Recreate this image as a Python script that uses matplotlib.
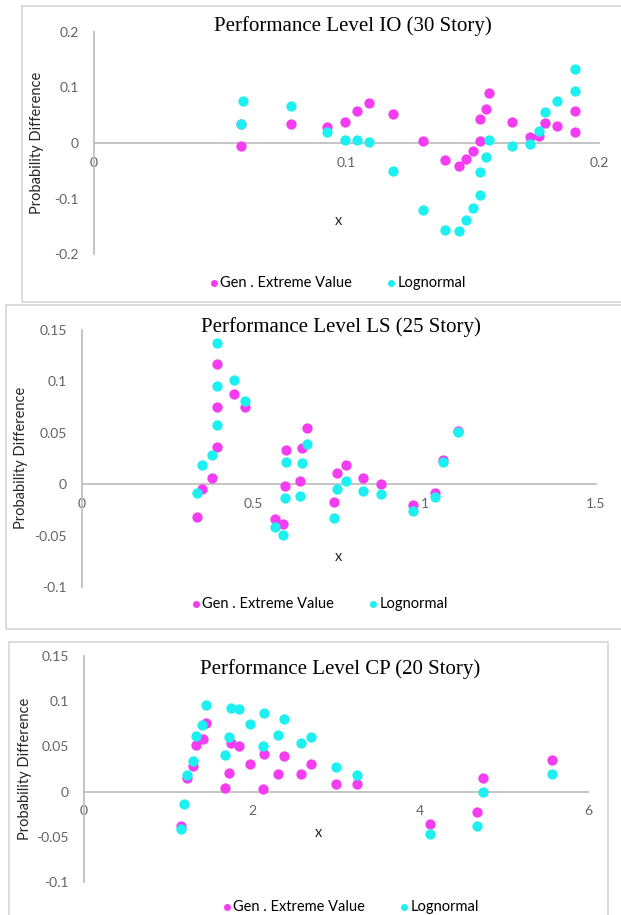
import matplotlib
matplotlib.use("Agg")
import matplotlib.pyplot as plt
from matplotlib.patches import Rectangle

# Performance Level IO (30 Story)
io_x = [0.0584, 0.0584, 0.0779, 0.0922, 0.0993, 0.104, 0.1089, 0.1186, 0.1304, 0.1392,
        0.1445, 0.1474, 0.1502, 0.1529, 0.1529, 0.1551, 0.1566, 0.1654, 0.1725, 0.1764,
        0.1785, 0.1835, 0.1906, 0.1906]
io_gev = [0.035, -0.005, 0.035, 0.029, 0.038, 0.058, 0.072, 0.052, 0.004, -0.031,
          -0.042, -0.028, -0.015, 0.003, 0.044, 0.062, 0.090, 0.038, 0.010, 0.012,
          0.036, 0.031, 0.058, 0.019]
io_logn_x = [0.0584, 0.0592, 0.0779, 0.0922, 0.0993, 0.104, 0.1089, 0.1186, 0.1304, 0.1392,
             0.1445, 0.1474, 0.1502, 0.1529, 0.1529, 0.1551, 0.1566, 0.1654, 0.1725, 0.1764,
             0.1785, 0.1835, 0.1906, 0.1906]
io_logn = [0.035, 0.076, 0.066, 0.020, 0.005, 0.005, 0.002, -0.050, -0.120, -0.156,
           -0.158, -0.139, -0.118, -0.094, -0.053, -0.026, 0.006, -0.005, -0.001, 0.022,
           0.056, 0.076, 0.093, 0.133]

# Performance Level LS (25 Story)
ls_x = [0.335, 0.350, 0.380, 0.393, 0.393, 0.393, 0.444, 0.477, 0.562, 0.588,
        0.591, 0.596, 0.637, 0.641, 0.656, 0.734, 0.743, 0.770, 0.821, 0.873,
        0.965, 1.029, 1.053, 1.096]
ls_gev = [-0.032, -0.0045, 0.006, 0.036, 0.075, 0.117, 0.088, 0.075, -0.034, -0.0385,
          -0.002, 0.033, 0.003, 0.035, 0.055, -0.017, 0.011, 0.019, 0.006, 0.000,
          -0.020, -0.009, 0.024, 0.052]
ls_logn = [-0.009, 0.019, 0.028, 0.058, 0.096, 0.137, 0.101, 0.081, -0.042, -0.049,
           -0.013, 0.022, -0.0115, 0.021, 0.039, -0.033, -0.005, 0.003, -0.007, -0.0096,
           -0.026, -0.012, 0.022, 0.051]

# Performance Level CP (20 Story)
cp_gev_x = [1.151, 1.226, 1.297, 1.335, 1.42, 1.458, 1.684, 1.731, 1.745, 1.844,
            1.972, 2.132, 2.146, 2.311, 2.382, 2.58, 2.703, 2.995, 3.25, 4.118,
            4.68, 4.755, 5.57]
cp_gev = [-0.038, 0.015, 0.028, 0.051, 0.058, 0.076, 0.004, 0.021, 0.054, 0.050,
          0.030, 0.003, 0.042, 0.020, 0.039, 0.0195, 0.030, 0.008, 0.008, -0.036,
          -0.023, 0.015, 0.035]
cp_logn_x = [1.151, 1.193, 1.226, 1.297, 1.335, 1.41, 1.458, 1.684, 1.731, 1.745,
             1.844, 1.972, 2.132, 2.146, 2.311, 2.382, 2.58, 2.703, 2.995, 3.25,
             4.118, 4.68, 4.755, 5.57]
cp_logn = [-0.041, -0.014, 0.018, 0.034, 0.061, 0.074, 0.096, 0.040, 0.060, 0.092,
           0.0915, 0.075, 0.050, 0.0875, 0.063, 0.080, 0.054, 0.060, 0.0275, 0.018,
           -0.047, -0.038, 0.000, 0.020]

io_xticks = [0, 0.1, 0.2]
io_xlabels = ["0", "0.1", "0.2"]
io_yticks = [-0.2, -0.1, 0, 0.1, 0.2]
io_ylabels = ["-0.2", "-0.1", "0", "0.1", "0.2"]
ls_xticks = [0, 0.5, 1, 1.5]
ls_xlabels = ["0", "0.5", "1", "1.5"]
cp_xticks = [0, 2, 4, 6]
cp_xlabels = ["0", "2", "4", "6"]
ls_yticks = [-0.1, -0.05, 0, 0.05, 0.1, 0.15]
ls_ylabels = ["-0.1", "-0.05", "0", "0.05", "0.1", "0.15"]

MAGENTA = "#F43CF2"
CYAN = "#1CF0F0"
GRID_GREY = "#BFBFBF"
W, H = 621, 915

fig = plt.figure(figsize=(W / 100, H / 100), dpi=100)
fig.patch.set_facecolor("white")


def box(x0, y0, x1, y1):
    return [x0 / W, 1 - y1 / H, (x1 - x0) / W, (y1 - y0) / H]


def fx(x):
    return x / W


def fy(y):
    return 1 - y / H


def draw_panel(frame, area, title, title_xy, xlab_xy, ylab_xy, leg_xy,
               gx, gy, lx, ly, xlim, ylim, xticks, xlabels, yticks, ylabels):
    fig.add_artist(Rectangle((fx(frame[0]), fy(frame[3])),
                             (frame[2] - frame[0]) / W, (frame[3] - frame[1]) / H,
                             transform=fig.transFigure, fill=False,
                             edgecolor="#D9D9D9", lw=1.3))
    ax = fig.add_axes(box(*area))
    ax.scatter(gx, gy, s=55, color=MAGENTA, linewidths=0, zorder=3,
               label="Gen . Extreme Value", clip_on=False)
    ax.scatter(lx, ly, s=55, color=CYAN, linewidths=0, zorder=4,
               label="Lognormal", clip_on=False)
    ax.set_xlim(*xlim)
    ax.set_ylim(*ylim)
    for s in ["top", "right"]:
        ax.spines[s].set_visible(False)
    ax.spines["bottom"].set_position(("data", 0))
    for s in ["left", "bottom"]:
        ax.spines[s].set_color(GRID_GREY)
        ax.spines[s].set_linewidth(1.3)
    ax.set_xticks(xticks)
    ax.set_xticklabels(xlabels)
    ax.set_yticks(yticks)
    ax.set_yticklabels(ylabels)
    ax.tick_params(axis="x", length=0, pad=10, labelsize=10, labelcolor="#636363")
    ax.tick_params(axis="y", length=0, pad=11, labelsize=10, labelcolor="#636363")
    for lab in ax.get_xticklabels() + ax.get_yticklabels():
        lab.set_fontfamily("Lato")
    ax.patch.set_alpha(0)

    fig.text(fx(title_xy[0]), fy(title_xy[1]), title, ha="center", va="center",
             fontsize=15, family="Liberation Serif", color="black")
    fig.text(fx(xlab_xy[0]), fy(xlab_xy[1]), "x", ha="center", va="center",
             fontsize=10.5, family="Lato", color="#262626")
    fig.text(fx(ylab_xy[0]), fy(ylab_xy[1]), "Probability Difference", ha="center",
             va="center", rotation=90, fontsize=10.5, family="Lato", color="#262626")
    ax.legend(loc="center", bbox_to_anchor=(fx(leg_xy[0]), fy(leg_xy[1])),
              bbox_transform=fig.transFigure, ncol=2, frameon=False,
              markerscale=0.68, handletextpad=0.05, handlelength=0.8,
              columnspacing=2.3, prop={"family": "Lato", "size": 10.5})
    return ax


draw_panel((22, 6, 640, 302), (94, 32, 599, 254), "Performance Level IO (30 Story)",
           (353, 26), (338, 221), (37, 143), (337, 283),
           io_x, io_gev, io_logn_x, io_logn, (0, 0.2), (-0.2, 0.2),
           io_xticks, io_xlabels, io_yticks, io_ylabels)

draw_panel((6, 305, 640, 629), (82, 330, 596, 587), "Performance Level LS (25 Story)",
           (341, 327), (338, 557), (21, 458), (319, 604),
           ls_x, ls_gev, ls_x, ls_logn, (0, 1.5), (-0.1, 0.15),
           ls_xticks, ls_xlabels, ls_yticks, ls_ylabels)

draw_panel((9, 642, 608, 940), (84, 656, 588, 882), "Performance Level CP (20 Story)",
           (340, 669), (318, 833), (25, 769), (350, 907),
           cp_gev_x, cp_gev, cp_logn_x, cp_logn, (0, 6), (-0.1, 0.15),
           cp_xticks, cp_xlabels, ls_yticks, ls_ylabels)

fig.savefig("out.png", dpi=100, facecolor="white")
